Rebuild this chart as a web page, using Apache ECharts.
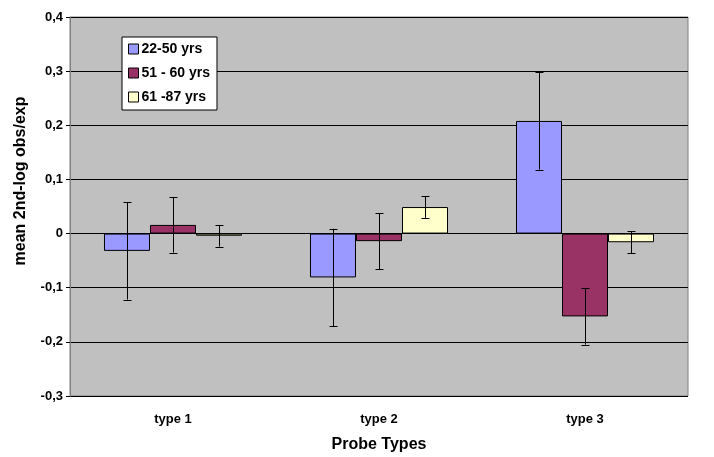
<!DOCTYPE html>
<html><head><meta charset="utf-8">
<script src="https://cdn.jsdelivr.net/npm/echarts@6/dist/echarts.min.js"></script>
<style>html,body{margin:0;padding:0;background:#fff}#c{width:714px;height:457px}</style>
</head><body><div id="c"></div>
<script>
const categories = ['type 1', 'type 2', 'type 3'];
const seriesNames = ['22-50 yrs', '51 - 60 yrs', '61 -87 yrs'];
const vals2250 = [-0.032, -0.081, 0.208];
const vals5160 = [0.016, -0.014, -0.153];
const vals6187 = [-0.004, 0.049, -0.016];
const err2250 = [0.090, 0.090, 0.090];
const err5160 = [0.051, 0.052, 0.052];
const err6187 = [0.020, 0.020, 0.020];
const yTicks = [-0.3, -0.2, -0.1, 0, 0.1, 0.2, 0.3, 0.4];

const values = [vals2250, vals5160, vals6187];
const errors = [err2250, err5160, err6187];
const colors = ['#9999FF', '#993366', '#FFFFCC'];
const catGap = 0.33;
const font = '"Liberation Sans", Arial, sans-serif';

const chart = echarts.init(document.getElementById('c'), null, {renderer: 'canvas'});

const series = [];
values.forEach((v, i) => {
  series.push({
    name: seriesNames[i], type: 'bar', data: v,
    barGap: '0%', barCategoryGap: (catGap * 100) + '%',
    itemStyle: {color: colors[i], borderColor: '#000', borderWidth: 1},
    emphasis: {disabled: true}, animation: false
  });
});
values.forEach((v, i) => {
  series.push({
    type: 'custom', silent: true, animation: false, z: 10,
    data: v.map((y, k) => [k, y, errors[i][k]]),
    renderItem: function (params, api) {
      const k = api.value(0), y = api.value(1), e = api.value(2);
      const bandW = api.size([1, 0])[0];
      const barW = bandW * (1 - catGap) / 3;
      const off = (i - 1) * barW;
      const top = api.coord([k, y + e]);
      const bot = api.coord([k, y - e]);
      const x = Math.round(top[0] + off) + 0.5;
      const cap = 4;
      const st = {stroke: '#000', lineWidth: 1};
      return {type: 'group', children: [
        {type: 'line', shape: {x1: x, y1: top[1], x2: x, y2: bot[1]}, style: st},
        {type: 'line', shape: {x1: x - cap, y1: Math.round(top[1]) + 0.5, x2: x + cap, y2: Math.round(top[1]) + 0.5}, style: st},
        {type: 'line', shape: {x1: x - cap, y1: Math.round(bot[1]) + 0.5, x2: x + cap, y2: Math.round(bot[1]) + 0.5}, style: st}
      ]};
    }
  });
});

chart.setOption({
  animation: false,
  backgroundColor: '#ffffff',
  textStyle: {fontFamily: font},
  grid: {left: 70, right: 26, top: 17, bottom: 61, show: true, backgroundColor: '#C0C0C0', borderColor: '#808080', borderWidth: 1,
    containLabel: false, outerBoundsMode: 'none'},
  legend: {
    orient: 'vertical', left: 122, top: 37,
    backgroundColor: '#ffffff', borderColor: '#000', borderWidth: 1,
    padding: [5, 7, 6, 6], itemGap: 10, itemWidth: 10, itemHeight: 10,
    data: seriesNames.map((n, i) => ({name: n, icon: 'rect', itemStyle: {color: colors[i], borderColor: '#000', borderWidth: 1}})),
    textStyle: {fontFamily: font, fontSize: 14, lineHeight: 14, fontWeight: 'bold', color: '#000', padding: [0, 0, 0, -2]}
  },
  xAxis: {
    type: 'category', data: categories,
    axisLine: {onZero: false, show: false},
    axisTick: {show: false},
    axisLabel: {fontFamily: font, fontSize: 13, fontWeight: 'bold', color: '#000', margin: 17},
    name: 'Probe Types', nameLocation: 'middle', nameGap: 41,
    nameTextStyle: {fontFamily: font, fontSize: 16, fontWeight: 'bold', color: '#000'}
  },
  yAxis: {
    type: 'value', min: yTicks[0], max: yTicks[yTicks.length - 1], interval: 0.1,
    axisLine: {show: true, lineStyle: {color: '#808080'}},
    axisTick: {show: true, length: 4, lineStyle: {color: '#000'}},
    splitLine: {show: true, lineStyle: {color: '#000', width: 1}},
    axisLabel: {fontFamily: font, fontSize: 13, fontWeight: 'bold', color: '#000', margin: 7,
      formatter: v => Math.abs(v) < 1e-9 ? '0' : (Math.round(v * 10) / 10).toFixed(1).replace('.', ',')}
  },
  graphic: [{
    type: 'text', x: 21, y: 181, rotation: Math.PI / 2,
    style: {text: 'mean 2nd-log obs/exp', font: 'bold 16px ' + font, fill: '#000', align: 'center', verticalAlign: 'middle'}
  }],
  series: series
});
</script></body></html>
